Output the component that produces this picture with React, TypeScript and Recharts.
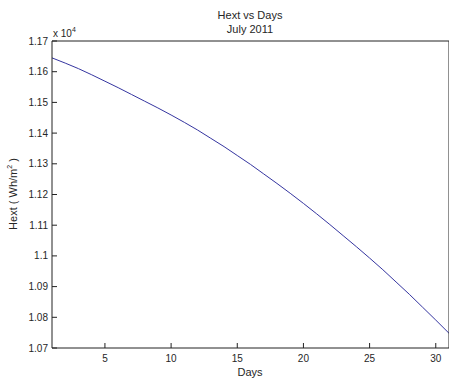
import React from "react";
import { LineChart, Line, XAxis, YAxis } from "recharts";

const days = [1, 2, 3, 4, 5, 6, 7, 8, 9, 10, 11, 12, 13, 14, 15, 16, 17, 18, 19, 20, 21, 22, 23, 24, 25, 26, 27, 28, 29, 30, 31];
const hext = [
  11645, 11628, 11610, 11590, 11569, 11548, 11526, 11504, 11482, 11459,
  11435, 11410, 11383, 11356, 11327, 11298, 11267, 11236, 11204, 11171,
  11137, 11102, 11066, 11030, 10993, 10955, 10915, 10875, 10833, 10791,
  10748,
];
const xTicks = [5, 10, 15, 20, 25, 30];
const yTicks = [10700, 10800, 10900, 11000, 11100, 11200, 11300, 11400, 11500, 11600, 11700];

const data = days.map((d, i) => ({ day: d, hext: hext[i] }));

const FONT = "'Liberation Sans', Arial, Helvetica, sans-serif";
const TXT = "#262626";

const fmtY = (v: number) => String(parseFloat((v / 1e4).toFixed(2)));

export default function App() {
  return (
    <div style={{ position: "absolute", left: 0, top: 0, width: 449, height: 381, background: "#fff", overflow: "hidden" }}>
      <LineChart
        width={449}
        height={381}
        data={data}
        margin={{ top: 40, right: -1, bottom: 0, left: 0 }}
      >
        <XAxis
          dataKey="day"
          type="number"
          domain={[1, 31]}
          ticks={xTicks}
          height={33}
          tickSize={-5}
          tickMargin={12}
          stroke="#222"
          tick={{ fill: TXT, fontSize: 10, fontFamily: FONT }}
          allowDataOverflow
        />
        <XAxis
          xAxisId="top"
          orientation="top"
          dataKey="day"
          type="number"
          domain={[1, 31]}
          ticks={xTicks}
          height={1}
          tickSize={-5}
          stroke="#222"
          tick={false}
          allowDataOverflow
        />
        <YAxis
          type="number"
          domain={[10700, 11700]}
          ticks={yTicks}
          width={52}
          tickSize={-5}
          tickMargin={9}
          stroke="#222"
          tickFormatter={fmtY}
          tick={{ fill: TXT, fontSize: 10, fontFamily: FONT }}
          allowDataOverflow
        />
        <YAxis
          yAxisId="right"
          orientation="right"
          type="number"
          domain={[10700, 11700]}
          ticks={yTicks}
          width={1}
          tickSize={-5}
          stroke="#222"
          tick={false}
          allowDataOverflow
        />
        <Line
          xAxisId="top"
          yAxisId="right"
          dataKey="hext"
          stroke="none"
          dot={false}
          activeDot={false}
          isAnimationActive={false}
        />
        <Line
          dataKey="hext"
          stroke="#3535a0"
          strokeWidth={1}
          dot={false}
          isAnimationActive={false}
        />
      </LineChart>
      <svg
        width={449}
        height={381}
        style={{ position: "absolute", left: 0, top: 0, pointerEvents: "none" }}
      >
        <g fontFamily={FONT} fill={TXT}>
          <text x={250} y={19} fontSize={11} textAnchor="middle">Hext vs Days</text>
          <text x={250} y={33} fontSize={11} textAnchor="middle">July 2011</text>
          <text x={53} y={37} fontSize={10}>
            x 10<tspan fontSize={7} dy={-5}>4</tspan>
          </text>
          <text x={250} y={376} fontSize={11} textAnchor="middle">Days</text>
          <text
            x={17}
            y={194}
            fontSize={11}
            textAnchor="middle"
            transform="rotate(-90 17 194)"
          >
            Hext ( Wh/m<tspan fontSize={7} dy={-5}>2</tspan><tspan dy={5}> )</tspan>
          </text>
        </g>
      </svg>
    </div>
  );
}
